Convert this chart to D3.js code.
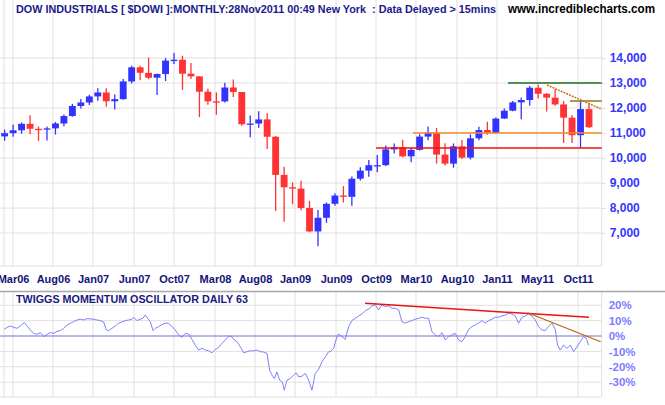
<!DOCTYPE html>
<html><head><meta charset="utf-8">
<script src="https://cdn.jsdelivr.net/npm/d3@7"></script>
<style>body{margin:0;background:#fff}svg{display:block}text{font-family:"Liberation Sans",Arial,sans-serif}</style>
</head><body><svg id="c" width="665" height="405"></svg>
<script>
// ---- DATA ----
const months = ["Feb06","Mar06","Apr06","May06","Jun06","Jul06","Aug06","Sep06","Oct06","Nov06","Dec06",
"Jan07","Feb07","Mar07","Apr07","May07","Jun07","Jul07","Aug07","Sep07","Oct07","Nov07","Dec07",
"Jan08","Feb08","Mar08","Apr08","May08","Jun08","Jul08","Aug08","Sep08","Oct08","Nov08","Dec08",
"Jan09","Feb09","Mar09","Apr09","May09","Jun09","Jul09","Aug09","Sep09","Oct09","Nov09","Dec09",
"Jan10","Feb10","Mar10","Apr10","May10","Jun10","Jul10","Aug10","Sep10","Oct10","Nov10","Dec10",
"Jan11","Feb11","Mar11","Apr11","May11","Jun11","Jul11","Aug11","Sep11","Oct11","Nov11"];
const opens  = [10864,10993,11109,11367,11168,11150,11186,11381,11679,12081,12221,
12463,12622,12269,12354,13063,13628,13408,13212,13358,13896,13930,13372,
13265,12650,12266,12263,12820,12638,11350,11378,11543,10851,9325,8829,
8776,8001,7063,7609,8168,8500,8447,9172,9496,9712,9713,10345,
10428,10067,10325,10857,11009,10137,9774,10466,10015,10788,11118,11006,
11578,11892,12226,12320,12811,12570,12414,12143,11614,10913,11955];
const highs  = [11137,11334,11419,11709,11258,11260,11440,11744,12167,12361,12529,
12787,12795,12539,13163,13693,13692,14022,13382,14000,14198,14090,13799,
13279,12768,12623,13010,13136,12638,11697,11867,11790,10882,9654,9026,
9088,8280,7924,8221,8588,8877,9258,9630,9918,10119,10496,10580,
10729,10402,10954,11258,11205,10594,10581,10720,10948,11246,11451,11625,
11984,12284,12419,12876,12929,12600,12753,12284,11717,12284,12188];
const lows   = [10689,10846,10973,10955,10683,10698,10938,11268,11648,11978,12124,
12292,12050,11939,12335,12981,13109,13153,12518,13081,13765,12724,13163,
11635,12126,11731,12220,12443,11288,10827,11215,10365,7882,7449,8149,
7909,7030,6469,7406,8087,8221,8087,9100,9252,9430,9678,10180,
10030,9835,10300,10714,9774,9700,9614,9956,9940,10711,10929,10990,
11575,11869,11555,12093,12381,11862,12093,10604,10597,10404,11200];
const closes = [10993,11109,11367,11168,11150,11186,11381,11679,12081,12221,12463,
12622,12269,12354,13063,13628,13408,13212,13358,13896,13930,13372,13265,
12650,12266,12263,12820,12638,11350,11378,11543,10851,9325,8829,8776,
8001,7063,7609,8168,8500,8447,9172,9496,9712,9713,10345,10428,
10067,10325,10857,11009,10137,9774,10466,10015,10788,11118,11006,11578,
11892,12226,12320,12811,12570,12414,12143,11614,10913,11955,11231];

const tickLabels = ["Mar06","Aug06","Jan07","Jun07","Oct07","Mar08","Aug08","Jan09","Jun09","Oct09","Mar10","Aug10","Jan11","May11","Oct11"];
const tickPos    = [0.99,5.71,10.44,15.28,20.0,24.84,29.56,34.29,39.13,43.85,48.57,53.41,58.13,62.86,67.7];
const priceTicks = [7000,8000,9000,10000,11000,12000,13000,14000];
const oscTicks   = [20,10,0,-10,-20,-30];

// price trend lines: [t1, v1, t2, v2]
const priceLines = [
  [43.85,10400,70.5,10400],
  [48.22,11000,70.5,11000],
  [59.44,13000,70.5,13000],
  [66.76,12280,70.5,12280]
];
const priceDotted = [[64.04,12920],[70.38,11972]];
const oscRedLine  = [[42.56,21.2],[69.0,12.1]];
const oscBrownLine= [[61.75,15.1],[70.38,-3.7]];

// Twiggs momentum oscillator (daily): [month index, %]
const osc = [
[-0.04,4.3],[0.28,5.6],[0.67,6.5],[1.07,5.6],[1.46,5.0],[1.85,6.5],[2.33,8.7],[2.64,6.5],[3.03,3.9],[3.43,1.7],
[3.82,1.1],[4.21,2.2],[4.61,-0.4],[5.00,1.0],[5.40,2.2],[5.79,1.7],[6.18,3.0],[6.58,3.5],[6.97,5.0],[7.36,7.0],
[7.76,8.3],[8.15,9.3],[8.54,10.4],[8.94,10.9],[9.33,10.4],[9.72,11.3],[10.12,11.1],[10.51,10.9],[10.91,10.4],[11.30,10.0],
[11.69,9.1],[12.01,3.9],[12.28,3.5],[12.68,5.0],[13.07,6.5],[13.46,8.3],[13.86,9.1],[14.25,10.0],[14.64,10.4],[15.04,10.9],
[15.23,12.2],[15.63,10.0],[16.02,10.9],[16.34,11.5],[16.61,13.7],[16.89,11.5],[17.20,9.3],[17.52,3.5],[17.79,5.0],[18.19,6.1],
[18.58,7.4],[18.97,8.3],[19.37,8.3],[19.76,6.1],[20.15,3.9],[20.55,0.7],[20.94,-0.9],[21.33,1.7],[21.73,1.3],[22.12,-2.2],
[22.51,-5.9],[22.91,-9.1],[23.30,-8.0],[23.70,-9.1],[24.09,-9.6],[24.48,-10.9],[24.88,-8.7],[25.27,-7.4],[25.66,-4.8],[26.06,-2.6],
[26.45,-0.4],[26.73,0.0],[27.04,-2.2],[27.43,-3.7],[27.83,-7.0],[28.22,-10.9],[28.61,-10.2],[29.01,-9.6],[29.40,-9.6],[29.79,-9.1],
[30.19,-10.2],[30.58,-10.4],[30.98,-11.3],[31.29,-22.2],[31.57,-25.4],[31.84,-27.6],[32.16,-23.3],[32.47,-28.7],[32.79,-29.8],[33.02,-35.2],
[33.34,-28.7],[33.73,-27.6],[34.12,-25.4],[34.44,-23.9],[34.71,-26.5],[35.11,-26.1],[35.50,-24.3],[35.90,-28.7],[36.29,-35.2],[36.68,-24.3],
[37.07,-21.7],[37.47,-16.7],[37.86,-13.5],[38.26,-10.2],[38.45,-10.2],[38.85,-8.0],[39.24,-0.4],[39.44,1.3],[39.83,-0.4],[40.22,-2.2],
[40.62,6.1],[41.01,10.0],[41.40,11.5],[41.80,13.0],[42.19,14.3],[42.59,16.5],[42.98,17.4],[43.37,19.6],[43.77,20.2],[44.16,17.0],
[44.55,20.2],[44.95,19.1],[45.34,19.6],[45.73,18.0],[46.13,18.0],[46.52,17.0],[46.91,9.3],[47.31,8.3],[47.70,9.3],[48.09,10.0],
[48.49,10.9],[48.88,11.5],[49.27,12.2],[49.67,11.5],[50.06,11.5],[50.46,2.8],[50.85,0.7],[51.24,-0.4],[51.64,2.2],[52.03,-2.6],
[52.42,-0.4],[52.82,0.7],[53.21,1.7],[53.60,-2.6],[54.00,-3.7],[54.39,-0.4],[54.78,4.3],[55.18,6.1],[55.57,7.2],[55.96,8.3],
[56.36,10.0],[56.75,8.3],[57.15,10.0],[57.54,10.9],[57.93,12.2],[58.33,12.2],[58.72,13.0],[59.11,13.7],[59.51,14.8],[59.90,14.3],
[60.29,13.0],[60.69,8.3],[61.08,12.2],[61.48,13.0],[61.87,14.3],[62.26,13.0],[62.66,10.4],[63.05,6.1],[63.44,3.9],[63.84,3.5],
[64.23,6.1],[64.62,8.3],[65.02,4.3],[65.29,-5.9],[65.61,-9.1],[66.00,-5.9],[66.39,-8.0],[66.79,-5.9],[67.18,-10.2],[67.57,-7.0],
[67.97,-3.7],[68.36,-0.4],[68.68,-1.5],[68.95,-5.9]
];

// ---- CHART ----
const svg = d3.select("#c");
const W = 665;
const plotR = 601.7, upTop = 0, upBot = 266, loTop = 292, loBot = 397;
const x  = d3.scaleLinear().domain([-0.5, 70.5]).range([0.4, plotR]);
const y  = d3.scaleLinear().domain([5680, 16320]).range([upBot, upTop]);
const yo = d3.scaleLinear().domain([-39.6, 28.57]).range([loBot, loTop]);
const grid = "#e0e0e0";

// gridlines
const g = svg.append("g");
g.selectAll(".vu").data(tickPos).join("line")
  .attr("x1", d => x(d)).attr("x2", d => x(d)).attr("y1", upTop).attr("y2", upBot)
  .attr("stroke", grid);
g.selectAll(".vl").data(tickPos).join("line").attr("class","vl")
  .attr("x1", d => x(d)).attr("x2", d => x(d)).attr("y1", loTop).attr("y2", loBot)
  .attr("stroke", grid);
g.selectAll(".hu").data(priceTicks).join("line").attr("class","hu")
  .attr("x1", 0).attr("x2", plotR).attr("y1", d => y(d)).attr("y2", d => y(d))
  .attr("stroke", grid);
g.selectAll(".hl").data(oscTicks.filter(d => d !== 0)).join("line").attr("class","hl")
  .attr("x1", 0).attr("x2", plotR).attr("y1", d => yo(d)).attr("y2", d => yo(d))
  .attr("stroke", grid);
// frames
const frame = [[4,upTop,4,upBot],[plotR,upTop,plotR,upBot],[0,upBot,plotR,upBot],
               [4,loTop,4,loBot],[plotR,loTop,plotR,loBot],[0,loBot,plotR,loBot]];
g.selectAll(".fr").data(frame).join("line").attr("class","fr")
  .attr("x1",d=>d[0]).attr("y1",d=>d[1]).attr("x2",d=>d[2]).attr("y2",d=>d[3]).attr("stroke",grid);
svg.append("line").attr("x1",0).attr("x2",W).attr("y1",291.5).attr("y2",291.5)
  .attr("stroke","#a8a8a8").attr("stroke-width",1.5);

// price axis
const ya = svg.append("g").attr("transform",`translate(${plotR},0)`)
  .call(d3.axisRight(y).tickValues(priceTicks).tickSize(4).tickPadding(4).tickFormat(d3.format(",")));
ya.select(".domain").remove();
ya.selectAll("line").attr("stroke", grid);
ya.selectAll("text").attr("fill","#3535ff").attr("font-size","12px").attr("font-weight","bold")
  .attr("font-family","Liberation Sans, Arial, sans-serif");

// osc axis
const yoa = svg.append("g").attr("transform",`translate(${plotR},0)`)
  .call(d3.axisRight(yo).tickValues(oscTicks).tickSize(0).tickPadding(7).tickFormat(d => d + "%"));
yoa.select(".domain").remove();
yoa.selectAll("text").attr("fill","#7c7cff").attr("font-size","11.5px").attr("font-weight","bold")
  .attr("font-family","Liberation Sans, Arial, sans-serif");

// x axis
const xa = svg.append("g").attr("transform",`translate(0,${upBot})`)
  .call(d3.axisBottom(x).tickValues(tickPos).tickSize(0).tickPadding(9).tickFormat((d,i) => tickLabels[i]));
xa.select(".domain").remove();
xa.selectAll("text").attr("fill","#14147a").attr("font-size","11px").attr("font-weight","bold")
  .attr("font-family","Liberation Sans, Arial, sans-serif");

// candles
const candles = months.map((m,i) => ({i, o:opens[i], h:highs[i], l:lows[i], c:closes[i]}));
const cg = svg.append("g");
const col = d => d.c >= d.o ? "#3333ff" : "#ff3333";
cg.selectAll(".wick").data(candles).join("line")
  .attr("x1", d => x(d.i)).attr("x2", d => x(d.i))
  .attr("y1", d => y(d.h)).attr("y2", d => y(d.l))
  .attr("stroke", col).attr("stroke-width", 1.3);
const bw = x(1) - x(0) - 1.6;
cg.selectAll(".body").data(candles).join("rect")
  .attr("x", d => x(d.i) - bw/2).attr("width", bw)
  .attr("y", d => y(Math.max(d.o,d.c)))
  .attr("height", d => Math.max(1.3, Math.abs(y(d.o) - y(d.c))))
  .attr("fill", col);

// price trend lines
const pcols = ["#ee1111","#f08a28","#1e701e","#8a7a1a"];
svg.selectAll(".pl").data(priceLines).join("line")
  .attr("x1", d => x(d[0])).attr("y1", d => y(d[1]))
  .attr("x2", d => x(d[2])).attr("y2", d => y(d[3]))
  .attr("stroke", (d,i) => pcols[i]).attr("stroke-width", 1.5);
svg.append("line")
  .attr("x1", x(priceDotted[0][0])).attr("y1", y(priceDotted[0][1]))
  .attr("x2", x(priceDotted[1][0])).attr("y2", y(priceDotted[1][1]))
  .attr("stroke","#c87020").attr("stroke-width",1.5).attr("stroke-dasharray","2,1");

// oscillator
svg.append("line").attr("x1",0).attr("x2",plotR).attr("y1",yo(0)).attr("y2",yo(0))
  .attr("stroke","#7070c8").attr("stroke-width",1);
svg.append("path").datum(osc)
  .attr("d", d3.line().x(d => x(d[0])).y(d => yo(d[1])))
  .attr("fill","none").attr("stroke","#8080ff").attr("stroke-width",1);
svg.append("path").datum(oscRedLine)
  .attr("d", d3.line().x(d => x(d[0])).y(d => yo(d[1])))
  .attr("stroke","#ee1111").attr("stroke-width",1.5);
svg.append("path").datum(oscBrownLine)
  .attr("d", d3.line().x(d => x(d[0])).y(d => yo(d[1])))
  .attr("stroke","#c06010").attr("stroke-width",1.2);

// titles
svg.append("text").attr("x",16).attr("y",12.5).attr("fill","#1a1a8c")
  .attr("font-size","11px").attr("font-weight","bold").style("white-space","pre")
  .attr("textLength",480).attr("lengthAdjust","spacingAndGlyphs")
  .text("DOW INDUSTRIALS [ $DOWI ]:MONTHLY:28Nov2011 00:49 New York  : Data Delayed > 15mins");
svg.append("text").attr("x",508).attr("y",12.5).attr("fill","#000")
  .attr("font-size","12px").attr("font-weight","bold").attr("textLength",147).attr("lengthAdjust","spacingAndGlyphs")
  .text("www.incrediblecharts.com");
svg.append("text").attr("x",16).attr("y",303).attr("fill","#1a1a80")
  .attr("font-size","11px").attr("font-weight","bold").attr("textLength",232).attr("lengthAdjust","spacingAndGlyphs")
  .text("TWIGGS MOMENTUM OSCILLATOR DAILY 63");
</script></body></html>
